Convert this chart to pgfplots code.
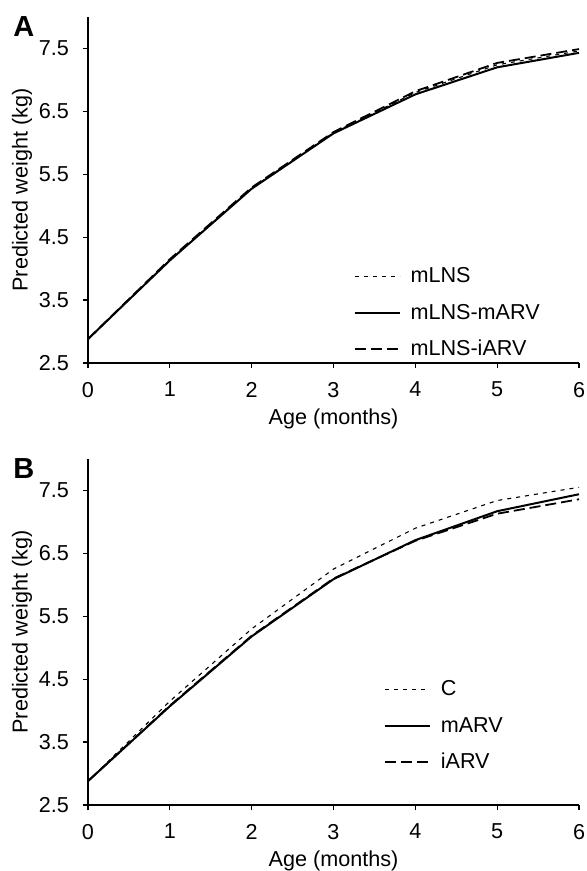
\documentclass[border=0pt]{standalone}
\usepackage{fontspec}
\setmainfont{Liberation Sans}
\usepackage{pgfplots}
\pgfplotsset{compat=1.18}
\pgfplotsset{
  panel/.style={
    scale only axis, width=245.5pt, height=173pt,
    xmin=0, xmax=6, ymin=2.5, ymax=8,
    xtick={0,1,2,3,4,5,6}, ytick={2.5,3.5,4.5,5.5,6.5,7.5},
    axis lines=left, axis line style={-, line width=0.75pt},
    tick align=outside, major tick length=2.5pt,
    tick style={black, line width=0.6pt},
    clip mode=individual,
    /pgf/number format/assume math mode=true,
    tick label style={font=\fontsize{10.8}{12}\selectfont},
    yticklabel style={xshift=-3.5pt, /pgf/number format/.cd, fixed, fixed zerofill, precision=1},
    xticklabel style={yshift=-3.5pt},
    xlabel={Age (months)}, ylabel={Predicted weight (kg)},
    every axis x label/.style={at={(rel axis cs:0.5,-0.163)}, anchor=center, font=\fontsize{10.8}{12}\selectfont},
    every axis y label/.style={at={(rel axis cs:-0.1344,0.5)}, anchor=center, rotate=90, font=\fontsize{10.8}{12}\selectfont},
    legend cell align=left,
    legend style={draw=none, fill=none, inner sep=0pt, row sep=6.5pt,
      font=\fontsize{10.8}{12}\selectfont,
      nodes={inner sep=1pt, text height=7.8pt, text depth=1.8pt}},
    legend image code/.code={\draw[#1] (0pt,0pt) -- (22.5pt,0pt); \path (26.5pt,0pt);},
  },
  dotsty/.style={black, line width=0.55pt, dash pattern=on 2pt off 2.5pt},
  solsty/.style={black, line width=1pt},
  dashsty/.style={black, line width=0.9pt, dash pattern=on 5.5pt off 2.5pt},
}
\pgfplotstableread{
x mLNS mARV iARV
0 2.88 2.88 2.88
1 4.14 4.13 4.15
2 5.28 5.27 5.29
3 6.16 6.15 6.17
4 6.80 6.77 6.82
5 7.24 7.20 7.27
6 7.46 7.43 7.49
}\tabA
\pgfplotstableread{
x C mARV iARV
0 2.88 2.88 2.88
1 4.15 4.07 4.08
2 5.30 5.18 5.19
3 6.25 6.09 6.10
4 6.90 6.71 6.70
5 7.34 7.17 7.13
6 7.55 7.44 7.36
}\tabB
\begin{document}
\begin{tikzpicture}
\useasboundingbox (-44pt,0pt) rectangle (249pt,-435.5pt);
\begin{axis}[panel, at={(0pt,-8.5pt)}, anchor=north west,
  legend style={at={(axis cs:3.24,4.06)}, anchor=north west}]
  \addplot[dotsty] table[x=x, y=mLNS] {\tabA};
  \addlegendentry{mLNS}
  \addplot[solsty] table[x=x, y=mARV] {\tabA};
  \addlegendentry{mLNS-mARV}
  \addplot[dashsty] table[x=x, y=iARV] {\tabA};
  \addlegendentry{mLNS-iARV}
  \node[anchor=north west, font=\fontsize{14.5}{17}\selectfont\bfseries, inner sep=0pt] at ([xshift=-37.5pt,yshift=0.5pt]rel axis cs:0,1) {A};
\end{axis}
\begin{axis}[panel, at={(0pt,-229.5pt)}, anchor=north west,
  legend style={at={(axis cs:3.61,4.52)}, anchor=north west}]
  \addplot[dotsty] table[x=x, y=C] {\tabB};
  \addlegendentry{C}
  \addplot[solsty] table[x=x, y=mARV] {\tabB};
  \addlegendentry{mARV}
  \addplot[dashsty] table[x=x, y=iARV] {\tabB};
  \addlegendentry{iARV}
  \node[anchor=north west, font=\fontsize{14.5}{17}\selectfont\bfseries, inner sep=0pt] at ([xshift=-37.5pt,yshift=0.5pt]rel axis cs:0,1) {B};
\end{axis}
\end{tikzpicture}
\end{document}
